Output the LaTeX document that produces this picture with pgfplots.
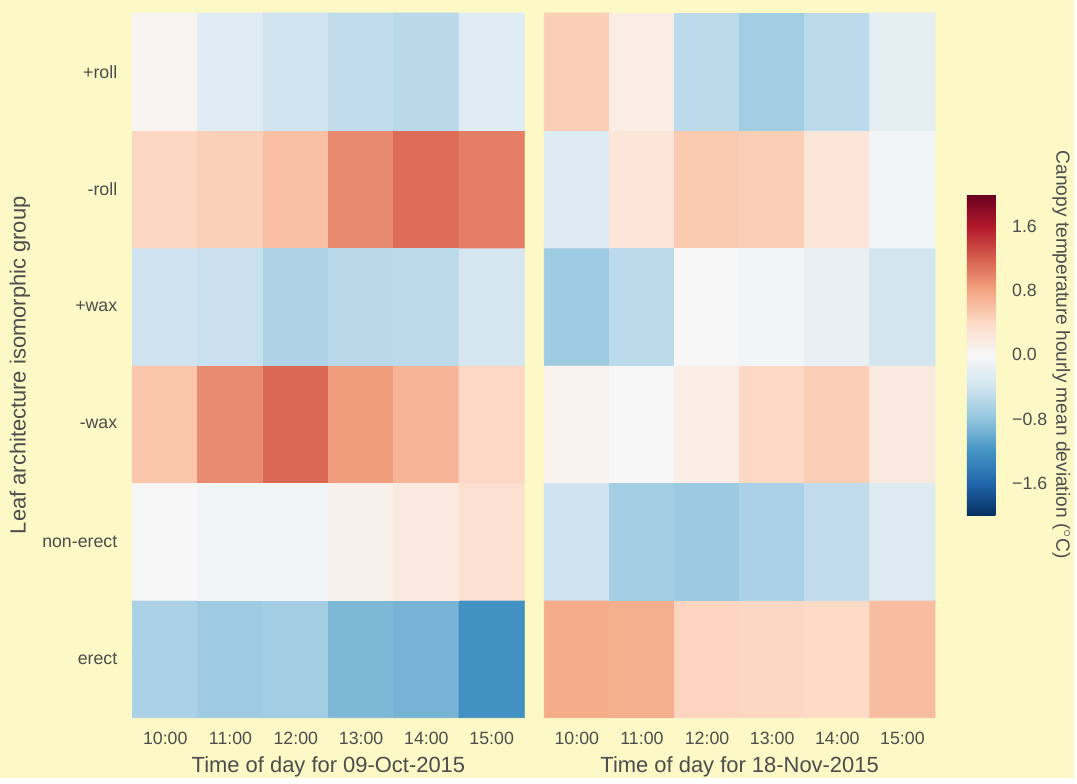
\documentclass[border=0pt]{standalone}
\usepackage{pgfplots}
\pgfplotsset{compat=1.18}
\usepackage{fontspec}
\setmainfont{Liberation Sans}
\definecolor{bgy}{RGB}{252,249,198}
\definecolor{tgrey}{RGB}{77,77,77}
\pgfplotsset{colormap={rdbu}{rgb255=(5,48,97) rgb255=(33,102,172) rgb255=(67,147,195) rgb255=(146,197,222) rgb255=(209,229,240) rgb255=(247,247,247) rgb255=(253,219,199) rgb255=(244,165,130) rgb255=(214,96,77) rgb255=(178,24,43) rgb255=(103,0,31)}}
\pgfplotsset{hm/.style={
  anchor=south west, scale only axis, height=353.5pt,
  xmin=-0.5, xmax=5.5, ymin=-0.5, ymax=5.5,
  axis line style={draw=none}, major tick length=0pt,
  xtick={0,1,2,3,4,5}, xticklabels={10:00,11:00,12:00,13:00,14:00,15:00},
  tick label style={text=tgrey, font=\fontsize{8.9}{10}\selectfont, inner sep=0pt},
  xticklabel style={anchor=base, yshift=-13.5pt},
  yticklabel style={anchor=east, xshift=-7.5pt},
  label style={text=tgrey, font=\fontsize{11}{13}\selectfont},
  xlabel style={at={(axis description cs:0.5,-0.0778)}, anchor=base},
  colormap name=rdbu, point meta min=-2, point meta max=2,
  clip=false,
}}
\begin{document}
\begin{tikzpicture}
\fill[bgy] (0pt,0pt) rectangle (538.5pt,390pt);
\begin{axis}[hm, at={(66.5pt,30pt)}, width=196.5pt,
  ytick={0,1,2,3,4,5}, yticklabels={erect,non-erect,-wax,+wax,-roll,+roll},
  xlabel={Time of day for 09-Oct-2015},
  ylabel={Leaf architecture isomorphic group},
  ylabel style={at={(axis description cs:-0.2875,0.5)}, anchor=center},
]
\addplot[matrix plot*, mesh/cols=6, point meta=explicit] table[meta=c] {
x y c
0 0 -0.65
1 0 -0.72
2 0 -0.70
3 0 -0.90
4 0 -0.94
5 0 -1.22
0 1 0.00
1 1 -0.05
2 1 -0.05
3 1 0.10
4 1 0.20
5 1 0.33
0 2 0.55
1 2 0.95
2 2 1.15
3 2 0.85
4 2 0.68
5 2 0.42
0 3 -0.42
1 3 -0.45
2 3 -0.62
3 3 -0.55
4 3 -0.53
5 3 -0.35
0 4 0.43
1 4 0.48
2 4 0.60
3 4 0.96
4 4 1.12
5 4 1.02
0 5 0.05
1 5 -0.25
2 5 -0.40
3 5 -0.50
4 5 -0.55
5 5 -0.25
};
\end{axis}
\begin{axis}[hm, at={(273pt,30pt)}, width=196pt,
  ytick=\empty,
  xlabel={Time of day for 18-Nov-2015},
  colorbar right,
  colorbar style={at={(1.0816,0.5149)}, anchor=west, width=15.5pt, height=161pt,
    axis line style={draw=none}, major tick length=0pt,
    ytick={-1.6,-0.8,0,0.8,1.6}, yticklabels={−1.6,−0.8,0.0,0.8,1.6},
    yticklabel style={anchor=west, xshift=7pt, inner sep=0pt, text=tgrey, font=\fontsize{8.9}{10}\selectfont},
    ylabel={Canopy temperature hourly mean deviation ($^\circ$C)},
    ylabel style={at={(axis description cs:3.06,0.5)}, anchor=center, rotate=180, text=tgrey, font=\fontsize{9.6}{11}\selectfont},
  },
]
\addplot[matrix plot*, mesh/cols=6, point meta=explicit] table[meta=c] {
x y c
0 0 0.75
1 0 0.73
2 0 0.45
3 0 0.43
4 0 0.40
5 0 0.63
0 1 -0.42
1 1 -0.70
2 1 -0.74
3 1 -0.65
4 1 -0.50
5 1 -0.27
0 2 0.08
1 2 0.00
2 2 0.15
3 2 0.42
4 2 0.50
5 2 0.20
0 3 -0.72
1 3 -0.53
2 3 0.00
3 3 -0.05
4 3 -0.15
5 3 -0.38
0 4 -0.27
1 4 0.25
2 4 0.53
3 4 0.50
4 4 0.25
5 4 -0.05
0 5 0.50
1 5 0.15
2 5 -0.53
3 5 -0.70
4 5 -0.53
5 5 -0.20
};
\end{axis}
\end{tikzpicture}
\end{document}
